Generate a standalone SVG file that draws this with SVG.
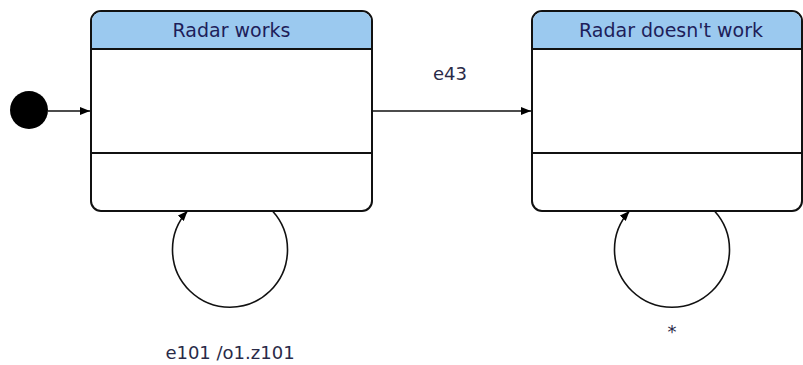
<svg xmlns="http://www.w3.org/2000/svg" width="803" height="365" viewBox="0 0 803 365">
<defs>
<marker id="arr" markerWidth="11" markerHeight="9" refX="10" refY="4" orient="auto" markerUnits="userSpaceOnUse">
<path d="M0,0 L10,4 L0,8 z" fill="#000"/>
</marker>
<style>
.box{fill:#fff;stroke:#111;stroke-width:2}
.hdr{fill:#9bc9ef;stroke:none}
.sep{stroke:#111;stroke-width:2}
.edge{fill:none;stroke:#111;stroke-width:1.6}
.title{font-family:"DejaVu Sans",sans-serif;font-size:19px;fill:#1e1e5a;text-anchor:middle}
.lbl{font-family:"DejaVu Sans",sans-serif;font-size:18px;fill:#2a2a48;text-anchor:middle}
</style>
</defs>
<rect width="803" height="365" fill="#fff"/>
<g id="initial">
<circle cx="29" cy="110" r="19" fill="#000"/>
</g>
<g id="radar-works">
<rect class="box" x="91" y="11" width="281" height="200" rx="10"/>
<path class="hdr" d="M92,49 V21 A9,9 0 0 1 101,12 H362 A9,9 0 0 1 371,21 V49 Z"/>
<line class="sep" x1="91" y1="49" x2="372" y2="49"/>
<line class="sep" x1="91" y1="153" x2="372" y2="153"/>
<text class="title" x="231.5" y="37">Radar works</text>
</g>
<g id="radar-doesnt-work">
<rect class="box" x="532" y="11" width="270" height="200" rx="10"/>
<path class="hdr" d="M533,49 V21 A9,9 0 0 1 542,12 H792 A9,9 0 0 1 801,21 V49 Z"/>
<line class="sep" x1="532" y1="49" x2="802" y2="49"/>
<line class="sep" x1="532" y1="153" x2="802" y2="153"/>
<text class="title" x="671" y="37">Radar doesn't work</text>
</g>
<g id="connectors">
<line class="edge" x1="48" y1="111" x2="90" y2="111" marker-end="url(#arr)"/>
<line class="edge" x1="372" y1="111" x2="531" y2="111" marker-end="url(#arr)"/>
<path class="edge" d="M272.5,211 A57.5,57.5 0 1 1 187.5,211" marker-end="url(#arr)"/>
<path class="edge" d="M714.5,211 A57.5,57.5 0 1 1 629.5,211" marker-end="url(#arr)"/>
<text class="lbl" x="450" y="80">e43</text>
<text class="lbl" x="230" y="359">e101 /o1.z101</text>
<text class="lbl" x="672" y="338">*</text>
</g>
</svg>
